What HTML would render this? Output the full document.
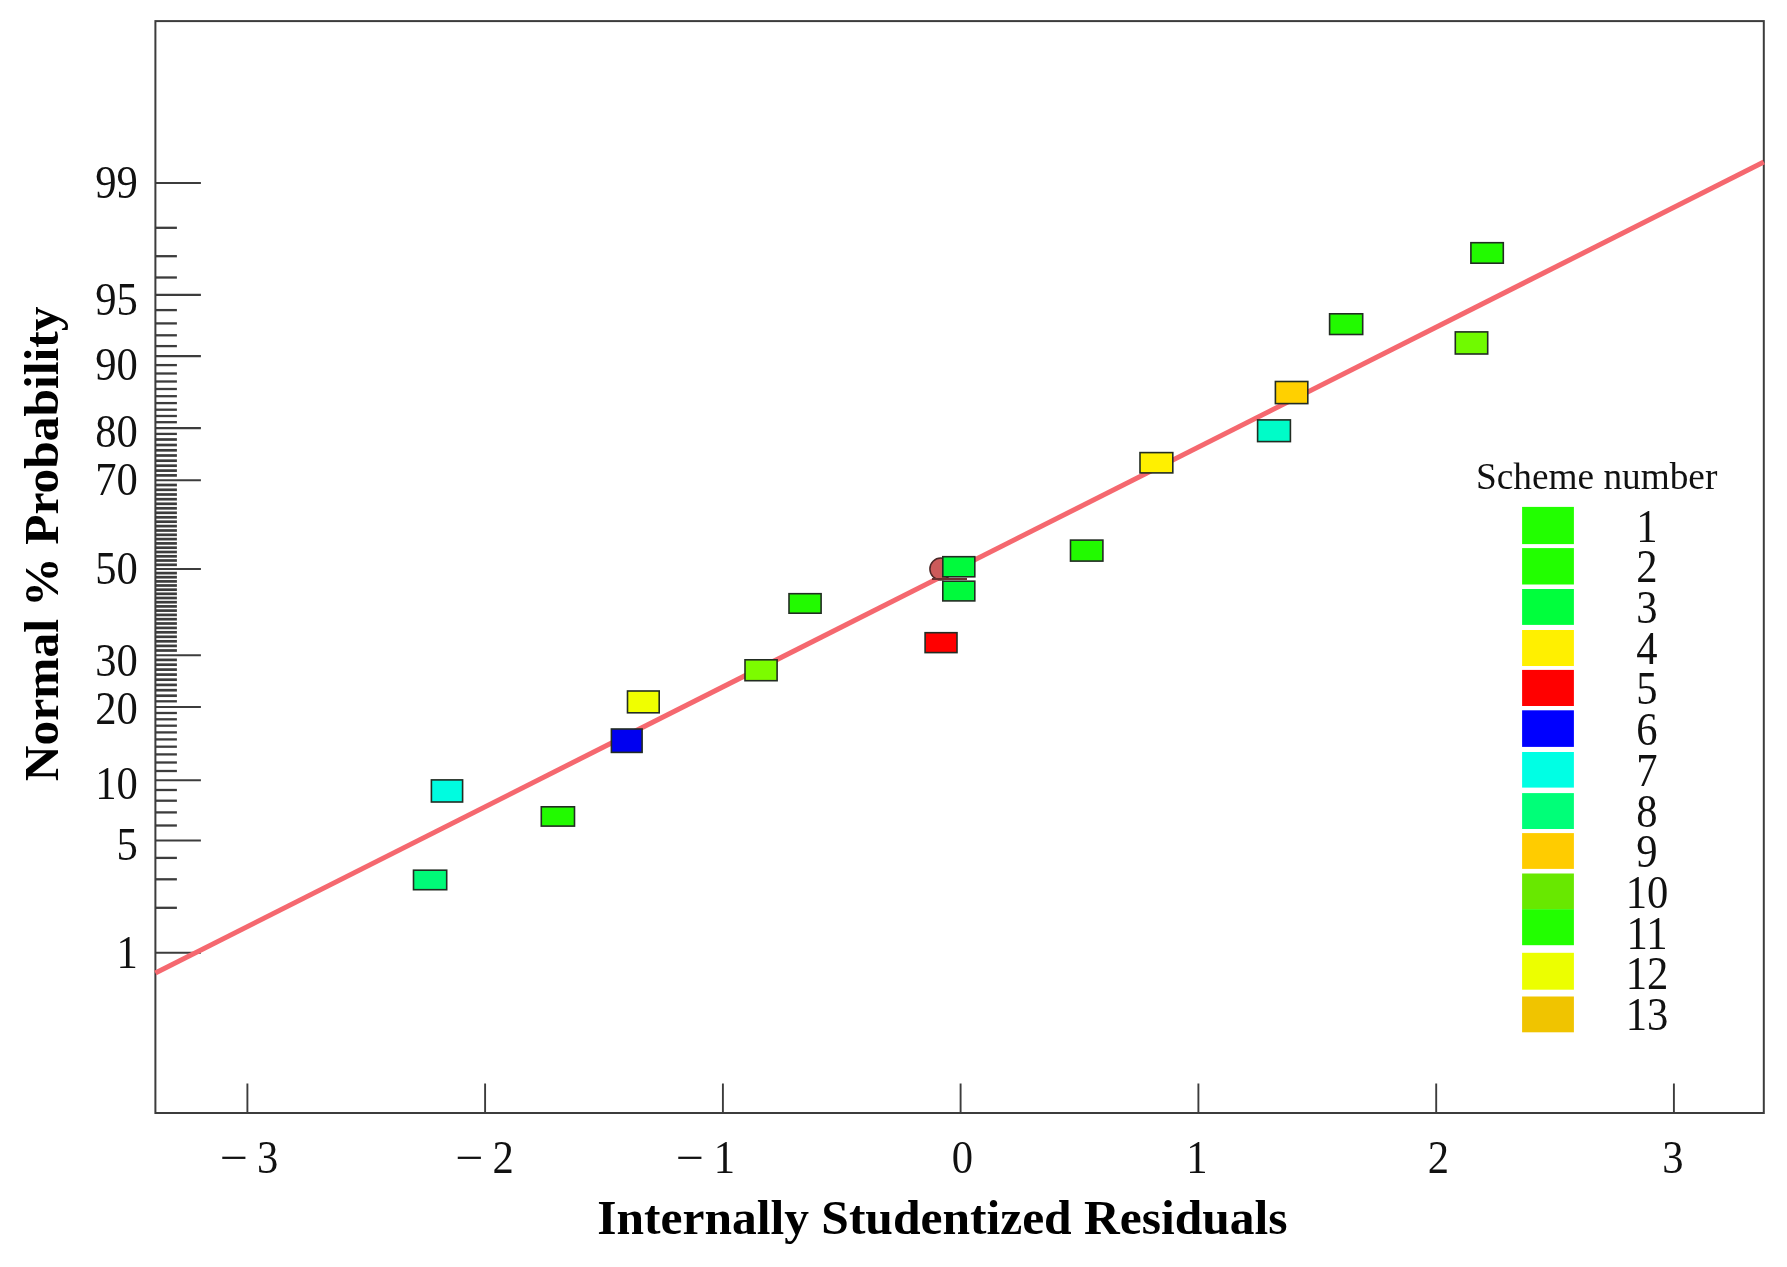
<!DOCTYPE html>
<html lang="en"><head><meta charset="utf-8"><title>Normal plot of residuals</title>
<style>
html,body{margin:0;padding:0;background:#fff}
body{width:1787px;height:1267px;overflow:hidden}
svg{display:block;filter:blur(0.45px)}
text{font-family:"Liberation Serif","Times New Roman",serif;fill:#111}
.tk{font-size:42.6px}
.ttl{font-size:49.5px;font-weight:bold;fill:#000}
</style></head><body>
<svg width="1787" height="1267" viewBox="0 0 1787 1267">
<rect width="1787" height="1267" fill="#fff"/>
<rect x="155.4" y="21.1" width="1608.4" height="1091.9" fill="none" stroke="#3c3c3c" stroke-width="2"/>
<g stroke="#3c3c3c" stroke-width="1.9">
<line x1="155.4" y1="952.7" x2="200.9" y2="952.7" stroke-width="2.1"/>
<line x1="155.4" y1="907.8" x2="176.9" y2="907.8" stroke-width="2.3"/>
<line x1="155.4" y1="879.3" x2="176.9" y2="879.3" stroke-width="2.3"/>
<line x1="155.4" y1="857.9" x2="176.9" y2="857.9" stroke-width="2.3"/>
<line x1="155.4" y1="840.5" x2="200.9" y2="840.5" stroke-width="2.1"/>
<line x1="155.4" y1="825.5" x2="176.9" y2="825.5" stroke-width="2.3"/>
<line x1="155.4" y1="812.4" x2="176.9" y2="812.4" stroke-width="2.3"/>
<line x1="155.4" y1="800.7" x2="176.9" y2="800.7" stroke-width="2.3"/>
<line x1="155.4" y1="790.0" x2="176.9" y2="790.0" stroke-width="2.3"/>
<line x1="155.4" y1="780.2" x2="200.9" y2="780.2" stroke-width="2.1"/>
<line x1="155.4" y1="771.0" x2="176.9" y2="771.0" stroke-width="2.3"/>
<line x1="155.4" y1="762.5" x2="176.9" y2="762.5" stroke-width="2.3"/>
<line x1="155.4" y1="754.4" x2="176.9" y2="754.4" stroke-width="2.3"/>
<line x1="155.4" y1="746.7" x2="176.9" y2="746.7" stroke-width="2.3"/>
<line x1="155.4" y1="739.4" x2="176.9" y2="739.4" stroke-width="2.3"/>
<line x1="155.4" y1="732.4" x2="176.9" y2="732.4" stroke-width="2.3"/>
<line x1="155.4" y1="725.7" x2="176.9" y2="725.7" stroke-width="2.3"/>
<line x1="155.4" y1="719.3" x2="176.9" y2="719.3" stroke-width="2.3"/>
<line x1="155.4" y1="713.0" x2="176.9" y2="713.0" stroke-width="2.3"/>
<line x1="155.4" y1="707.0" x2="200.9" y2="707.0" stroke-width="2.1"/>
<line x1="155.4" y1="701.3" x2="176.9" y2="701.3" stroke-width="2.3"/>
<line x1="155.4" y1="695.7" x2="176.9" y2="695.7" stroke-width="2.7"/>
<line x1="155.4" y1="690.2" x2="176.9" y2="690.2" stroke-width="2.7"/>
<line x1="155.4" y1="684.9" x2="176.9" y2="684.9" stroke-width="2.7"/>
<line x1="155.4" y1="679.7" x2="176.9" y2="679.7" stroke-width="2.7"/>
<line x1="155.4" y1="674.6" x2="176.9" y2="674.6" stroke-width="2.7"/>
<line x1="155.4" y1="669.6" x2="176.9" y2="669.6" stroke-width="2.7"/>
<line x1="155.4" y1="664.7" x2="176.9" y2="664.7" stroke-width="2.7"/>
<line x1="155.4" y1="659.9" x2="176.9" y2="659.9" stroke-width="2.7"/>
<line x1="155.4" y1="655.2" x2="200.9" y2="655.2" stroke-width="2.1"/>
<line x1="155.4" y1="650.5" x2="176.9" y2="650.5" stroke-width="2.7"/>
<line x1="155.4" y1="645.9" x2="176.9" y2="645.9" stroke-width="2.7"/>
<line x1="155.4" y1="641.3" x2="176.9" y2="641.3" stroke-width="2.7"/>
<line x1="155.4" y1="636.8" x2="176.9" y2="636.8" stroke-width="2.7"/>
<line x1="155.4" y1="632.3" x2="176.9" y2="632.3" stroke-width="2.7"/>
<line x1="155.4" y1="627.9" x2="176.9" y2="627.9" stroke-width="2.7"/>
<line x1="155.4" y1="623.5" x2="176.9" y2="623.5" stroke-width="2.7"/>
<line x1="155.4" y1="619.2" x2="176.9" y2="619.2" stroke-width="2.7"/>
<line x1="155.4" y1="614.9" x2="176.9" y2="614.9" stroke-width="2.7"/>
<line x1="155.4" y1="610.6" x2="176.9" y2="610.6" stroke-width="2.7"/>
<line x1="155.4" y1="606.4" x2="176.9" y2="606.4" stroke-width="2.7"/>
<line x1="155.4" y1="602.2" x2="176.9" y2="602.2" stroke-width="2.7"/>
<line x1="155.4" y1="598.0" x2="176.9" y2="598.0" stroke-width="2.7"/>
<line x1="155.4" y1="593.8" x2="176.9" y2="593.8" stroke-width="2.7"/>
<line x1="155.4" y1="589.7" x2="176.9" y2="589.7" stroke-width="2.7"/>
<line x1="155.4" y1="585.5" x2="176.9" y2="585.5" stroke-width="2.7"/>
<line x1="155.4" y1="581.4" x2="176.9" y2="581.4" stroke-width="2.7"/>
<line x1="155.4" y1="577.2" x2="176.9" y2="577.2" stroke-width="2.7"/>
<line x1="155.4" y1="573.1" x2="176.9" y2="573.1" stroke-width="2.7"/>
<line x1="155.4" y1="569.0" x2="200.9" y2="569.0" stroke-width="2.1"/>
<line x1="155.4" y1="564.8" x2="176.9" y2="564.8" stroke-width="2.7"/>
<line x1="155.4" y1="560.5" x2="176.9" y2="560.5" stroke-width="2.7"/>
<line x1="155.4" y1="556.3" x2="176.9" y2="556.3" stroke-width="2.7"/>
<line x1="155.4" y1="552.0" x2="176.9" y2="552.0" stroke-width="2.7"/>
<line x1="155.4" y1="547.7" x2="176.9" y2="547.7" stroke-width="2.7"/>
<line x1="155.4" y1="543.4" x2="176.9" y2="543.4" stroke-width="2.7"/>
<line x1="155.4" y1="539.1" x2="176.9" y2="539.1" stroke-width="2.7"/>
<line x1="155.4" y1="534.8" x2="176.9" y2="534.8" stroke-width="2.7"/>
<line x1="155.4" y1="530.5" x2="176.9" y2="530.5" stroke-width="2.7"/>
<line x1="155.4" y1="526.1" x2="176.9" y2="526.1" stroke-width="2.7"/>
<line x1="155.4" y1="521.7" x2="176.9" y2="521.7" stroke-width="2.7"/>
<line x1="155.4" y1="517.3" x2="176.9" y2="517.3" stroke-width="2.7"/>
<line x1="155.4" y1="512.8" x2="176.9" y2="512.8" stroke-width="2.7"/>
<line x1="155.4" y1="508.3" x2="176.9" y2="508.3" stroke-width="2.7"/>
<line x1="155.4" y1="503.8" x2="176.9" y2="503.8" stroke-width="2.7"/>
<line x1="155.4" y1="499.2" x2="176.9" y2="499.2" stroke-width="2.7"/>
<line x1="155.4" y1="494.5" x2="176.9" y2="494.5" stroke-width="2.7"/>
<line x1="155.4" y1="489.8" x2="176.9" y2="489.8" stroke-width="2.7"/>
<line x1="155.4" y1="485.0" x2="176.9" y2="485.0" stroke-width="2.7"/>
<line x1="155.4" y1="480.2" x2="200.9" y2="480.2" stroke-width="2.1"/>
<line x1="155.4" y1="475.4" x2="176.9" y2="475.4" stroke-width="2.7"/>
<line x1="155.4" y1="470.6" x2="176.9" y2="470.6" stroke-width="2.7"/>
<line x1="155.4" y1="465.7" x2="176.9" y2="465.7" stroke-width="2.7"/>
<line x1="155.4" y1="460.7" x2="176.9" y2="460.7" stroke-width="2.7"/>
<line x1="155.4" y1="455.5" x2="176.9" y2="455.5" stroke-width="2.7"/>
<line x1="155.4" y1="450.3" x2="176.9" y2="450.3" stroke-width="2.7"/>
<line x1="155.4" y1="445.0" x2="176.9" y2="445.0" stroke-width="2.7"/>
<line x1="155.4" y1="439.5" x2="176.9" y2="439.5" stroke-width="2.7"/>
<line x1="155.4" y1="433.9" x2="176.9" y2="433.9" stroke-width="2.3"/>
<line x1="155.4" y1="428.1" x2="200.9" y2="428.1" stroke-width="2.1"/>
<line x1="155.4" y1="422.2" x2="176.9" y2="422.2" stroke-width="2.3"/>
<line x1="155.4" y1="416.0" x2="176.9" y2="416.0" stroke-width="2.3"/>
<line x1="155.4" y1="409.7" x2="176.9" y2="409.7" stroke-width="2.3"/>
<line x1="155.4" y1="403.1" x2="176.9" y2="403.1" stroke-width="2.3"/>
<line x1="155.4" y1="396.2" x2="176.9" y2="396.2" stroke-width="2.3"/>
<line x1="155.4" y1="389.0" x2="176.9" y2="389.0" stroke-width="2.3"/>
<line x1="155.4" y1="381.5" x2="176.9" y2="381.5" stroke-width="2.3"/>
<line x1="155.4" y1="373.5" x2="176.9" y2="373.5" stroke-width="2.3"/>
<line x1="155.4" y1="365.1" x2="176.9" y2="365.1" stroke-width="2.3"/>
<line x1="155.4" y1="356.1" x2="200.9" y2="356.1" stroke-width="2.1"/>
<line x1="155.4" y1="346.1" x2="176.9" y2="346.1" stroke-width="2.3"/>
<line x1="155.4" y1="335.3" x2="176.9" y2="335.3" stroke-width="2.3"/>
<line x1="155.4" y1="323.4" x2="176.9" y2="323.4" stroke-width="2.3"/>
<line x1="155.4" y1="310.1" x2="176.9" y2="310.1" stroke-width="2.3"/>
<line x1="155.4" y1="294.9" x2="200.9" y2="294.9" stroke-width="2.1"/>
<line x1="155.4" y1="277.5" x2="176.9" y2="277.5" stroke-width="2.3"/>
<line x1="155.4" y1="256.2" x2="176.9" y2="256.2" stroke-width="2.3"/>
<line x1="155.4" y1="227.8" x2="176.9" y2="227.8" stroke-width="2.3"/>
<line x1="155.4" y1="183.0" x2="200.9" y2="183.0" stroke-width="2.1"/>
<line x1="247.4" y1="1113.0" x2="247.4" y2="1083.5"/>
<line x1="485.1" y1="1113.0" x2="485.1" y2="1083.5"/>
<line x1="722.9" y1="1113.0" x2="722.9" y2="1083.5"/>
<line x1="960.6" y1="1113.0" x2="960.6" y2="1083.5"/>
<line x1="1198.4" y1="1113.0" x2="1198.4" y2="1083.5"/>
<line x1="1436.2" y1="1113.0" x2="1436.2" y2="1083.5"/>
<line x1="1673.9" y1="1113.0" x2="1673.9" y2="1083.5"/>
</g>
<g class="tk" text-anchor="end">
<text transform="translate(137.8 968.0) scale(1 1.09)">1</text>
<text transform="translate(137.8 860.0) scale(1 1.09)">5</text>
<text transform="translate(137.8 799.0) scale(1 1.09)">10</text>
<text transform="translate(137.8 724.2) scale(1 1.09)">20</text>
<text transform="translate(137.8 675.5) scale(1 1.09)">30</text>
<text transform="translate(137.8 584.2) scale(1 1.09)">50</text>
<text transform="translate(137.8 494.9) scale(1 1.09)">70</text>
<text transform="translate(137.8 447.0) scale(1 1.09)">80</text>
<text transform="translate(137.8 380.2) scale(1 1.09)">90</text>
<text transform="translate(137.8 315.2) scale(1 1.09)">95</text>
<text transform="translate(137.8 197.8) scale(1 1.09)">99</text>
</g>
<g class="tk" text-anchor="middle">
<text transform="translate(267.6 1172.6) scale(1 1.08)">3</text>
<text transform="translate(503.1 1172.6) scale(1 1.08)">2</text>
<text transform="translate(724.3 1172.6) scale(1 1.08)">1</text>
<text transform="translate(962.4 1172.6) scale(1 1.08)">0</text>
<text transform="translate(1196.9 1172.6) scale(1 1.08)">1</text>
<text transform="translate(1438.5 1172.6) scale(1 1.08)">2</text>
<text transform="translate(1672.9 1172.6) scale(1 1.08)">3</text>
<text transform="translate(234.0 1173.4) scale(1.17 1.08)">−</text>
<text transform="translate(469.5 1173.4) scale(1.17 1.08)">−</text>
<text transform="translate(690.0 1173.4) scale(1.17 1.08)">−</text>
</g>
<text class="ttl" text-anchor="middle" x="942.4" y="1233.7">Internally Studentized Residuals</text>
<text class="ttl" text-anchor="middle" transform="translate(57.6 543.9) rotate(-90)">Normal % Probability</text>
<line x1="155.4" y1="973" x2="1763.8" y2="162" stroke="#f5686f" stroke-width="5.0"/>
<circle cx="940.8" cy="569" r="10.9" fill="#cc5a5a" stroke="#4a2626" stroke-width="1.5"/>
<line x1="932" y1="579" x2="967" y2="579" stroke="#6a3030" stroke-width="2"/>
<g stroke="#222c22" stroke-width="1.6">
<rect x="413.5" y="870.2" width="33.2" height="19.5" fill="#00fa78"/>
<rect x="431.4" y="779.9" width="31.2" height="22.1" fill="#00fce0"/>
<rect x="541.3" y="806.8" width="33.2" height="19.3" fill="#22fa00"/>
<rect x="611.4" y="729.0" width="30.7" height="23.4" fill="#0000f0"/>
<rect x="627.5" y="691.0" width="31.7" height="21.8" fill="#f0ff00"/>
<rect x="745.0" y="659.8" width="32.1" height="20.9" fill="#7cfc00"/>
<rect x="789.0" y="593.7" width="32.1" height="19.5" fill="#22fa00"/>
<rect x="925.1" y="632.7" width="31.9" height="19.9" fill="#ff0000"/>
<rect x="942.8" y="581.2" width="32.0" height="19.7" fill="#00fa3c"/>
<rect x="942.8" y="556.7" width="32.0" height="20.1" fill="#00fa3c"/>
<rect x="1070.5" y="540.1" width="32.4" height="21.0" fill="#22fa00"/>
<rect x="1140.0" y="452.6" width="32.8" height="20.3" fill="#fff000"/>
<rect x="1257.6" y="419.9" width="32.8" height="21.7" fill="#00fcc8"/>
<rect x="1275.4" y="381.5" width="32.4" height="22.1" fill="#ffd000"/>
<rect x="1329.6" y="313.8" width="33.1" height="20.7" fill="#22fa00"/>
<rect x="1455.3" y="331.9" width="32.4" height="22.1" fill="#70fa00"/>
<rect x="1470.9" y="242.7" width="32.4" height="20.5" fill="#22fa00"/>
</g>
<text x="1476" y="488.5" style="font-size:37.3px">Scheme number</text>
<rect x="1522.1" y="506.9" width="51.8" height="37.2" fill="#22ff00"/>
<rect x="1522.1" y="548.1" width="51.8" height="36.4" fill="#22ff00"/>
<rect x="1522.1" y="589" width="51.8" height="35.9" fill="#00ff3c"/>
<rect x="1522.1" y="630" width="51.8" height="36.0" fill="#fff000"/>
<rect x="1522.1" y="669.9" width="51.8" height="36.1" fill="#ff0000"/>
<rect x="1522.1" y="710.3" width="51.8" height="36.6" fill="#0000ff"/>
<rect x="1522.1" y="752" width="51.8" height="35.6" fill="#00ffe4"/>
<rect x="1522.1" y="793.1" width="51.8" height="35.9" fill="#00ff78"/>
<rect x="1522.1" y="833.1" width="51.8" height="35.8" fill="#ffcc00"/>
<rect x="1522.1" y="873.5" width="51.8" height="35.9" fill="#68e800"/>
<rect x="1522.1" y="909.2" width="51.8" height="36.0" fill="#22ff00"/>
<rect x="1522.1" y="952.8" width="51.8" height="36.9" fill="#ecff00"/>
<rect x="1522.1" y="996.5" width="51.8" height="35.8" fill="#f0c400"/>
<g class="tk" text-anchor="middle">
<text transform="translate(1647 541.6) scale(1 1.07)">1</text>
<text transform="translate(1647 582.3) scale(1 1.07)">2</text>
<text transform="translate(1647 623.0) scale(1 1.07)">3</text>
<text transform="translate(1647 663.7) scale(1 1.07)">4</text>
<text transform="translate(1647 704.4) scale(1 1.07)">5</text>
<text transform="translate(1647 745.1) scale(1 1.07)">6</text>
<text transform="translate(1647 785.8) scale(1 1.07)">7</text>
<text transform="translate(1647 826.5) scale(1 1.07)">8</text>
<text transform="translate(1647 867.2) scale(1 1.07)">9</text>
<text transform="translate(1647 907.9) scale(1 1.07)">10</text>
<text transform="translate(1647 948.6) scale(1 1.07)">11</text>
<text transform="translate(1647 989.3) scale(1 1.07)">12</text>
<text transform="translate(1647 1030.0) scale(1 1.07)">13</text>
</g>
</svg></body></html>
